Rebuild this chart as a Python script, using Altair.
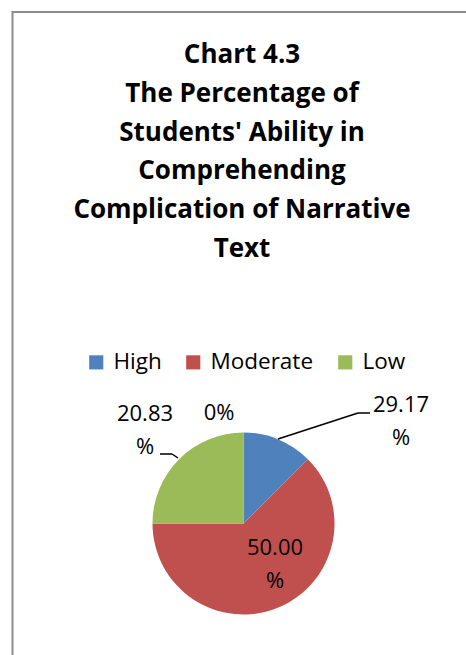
import altair as alt
import pandas as pd

# ---- data ----
categories = ["High", "Moderate", "Low"]
slice_values = [12.5, 62.5, 25.0]          # drawn slice sizes (%)
slice_colors = ["#4F81BD", "#C0504D", "#9BBB59"]
label_high = "29.17\n%"
label_moderate = "50.00\n%"
label_low = "20.83\n%"
label_zero = "0%"
title_lines = ["Chart 4.3", "The Percentage of", "Students' Ability in",
               "Comprehending", "Complication of Narrative", "Text"]

FONT = "Open Sans"

pie_df = pd.DataFrame({"category": categories, "value": slice_values,
                       "order": list(range(len(categories)))})

W, H = 466, 655

frame = alt.Chart(pd.DataFrame({"a": [0]})).mark_rect(
    fill="white", stroke="#8c8c8c", strokeWidth=2
).encode(x=alt.value(12.5), x2=alt.value(490), y=alt.value(12), y2=alt.value(700))

pie = alt.Chart(pie_df).mark_arc(outerRadius=91).encode(
    theta=alt.Theta("value:Q", stack=True),
    order=alt.Order("order:Q"),
    color=alt.Color(
        "category:N",
        scale=alt.Scale(domain=categories, range=slice_colors),
        legend=alt.Legend(
            title=None, orient="none", direction="horizontal",
            legendX=85, legendY=351, padding=0, symbolType="square", symbolSize=200,
            symbolStrokeWidth=0, labelFont=FONT, labelFontSize=22.5,
            labelColor="black", columnPadding=20, labelOffset=6,
        ),
    ),
    x=alt.value(243.5), y=alt.value(523.5),
)

def text_layer(txt, x, y, size=22, weight="normal", lh=33, baseline="middle"):
    return alt.Chart(pd.DataFrame({"t": [txt]})).mark_text(
        font=FONT, fontSize=size, fontWeight=weight, color="black",
        align="center", baseline=baseline, lineBreak="\n", lineHeight=lh,
    ).encode(text="t:N", x=alt.value(x), y=alt.value(y))

title = alt.Chart(pd.DataFrame({"t": ["\n".join(title_lines)]})).mark_text(
    font=FONT, fontSize=26, fontWeight="bold", color="black",
    align="center", baseline="alphabetic", lineBreak="\n", lineHeight=38.8,
).encode(text="t:N", x=alt.value(242), y=alt.value(63))

def seg(x1, y1, x2, y2):
    return alt.Chart(pd.DataFrame({"a": [0]})).mark_rule(
        color="black", strokeWidth=1.5
    ).encode(x=alt.value(x1), y=alt.value(y1), x2=alt.value(x2), y2=alt.value(y2))

chart = alt.layer(
    frame, pie,
    seg(278, 439, 358, 413), seg(358, 413, 370, 413),
    seg(160, 454, 172, 454), seg(172, 454, 178, 458),
    text_layer(label_high, 401, 405),
    text_layer(label_moderate, 275, 548),
    text_layer(label_low, 145, 414),
    text_layer(label_zero, 219, 413),
    title,
).properties(
    width=W, height=H, padding=0, autosize=alt.AutoSizeParams(type="none"),
    background="white",
).configure_view(stroke=None)

chart.save("out.html", embed_options={"renderer": "svg", "actions": False})
